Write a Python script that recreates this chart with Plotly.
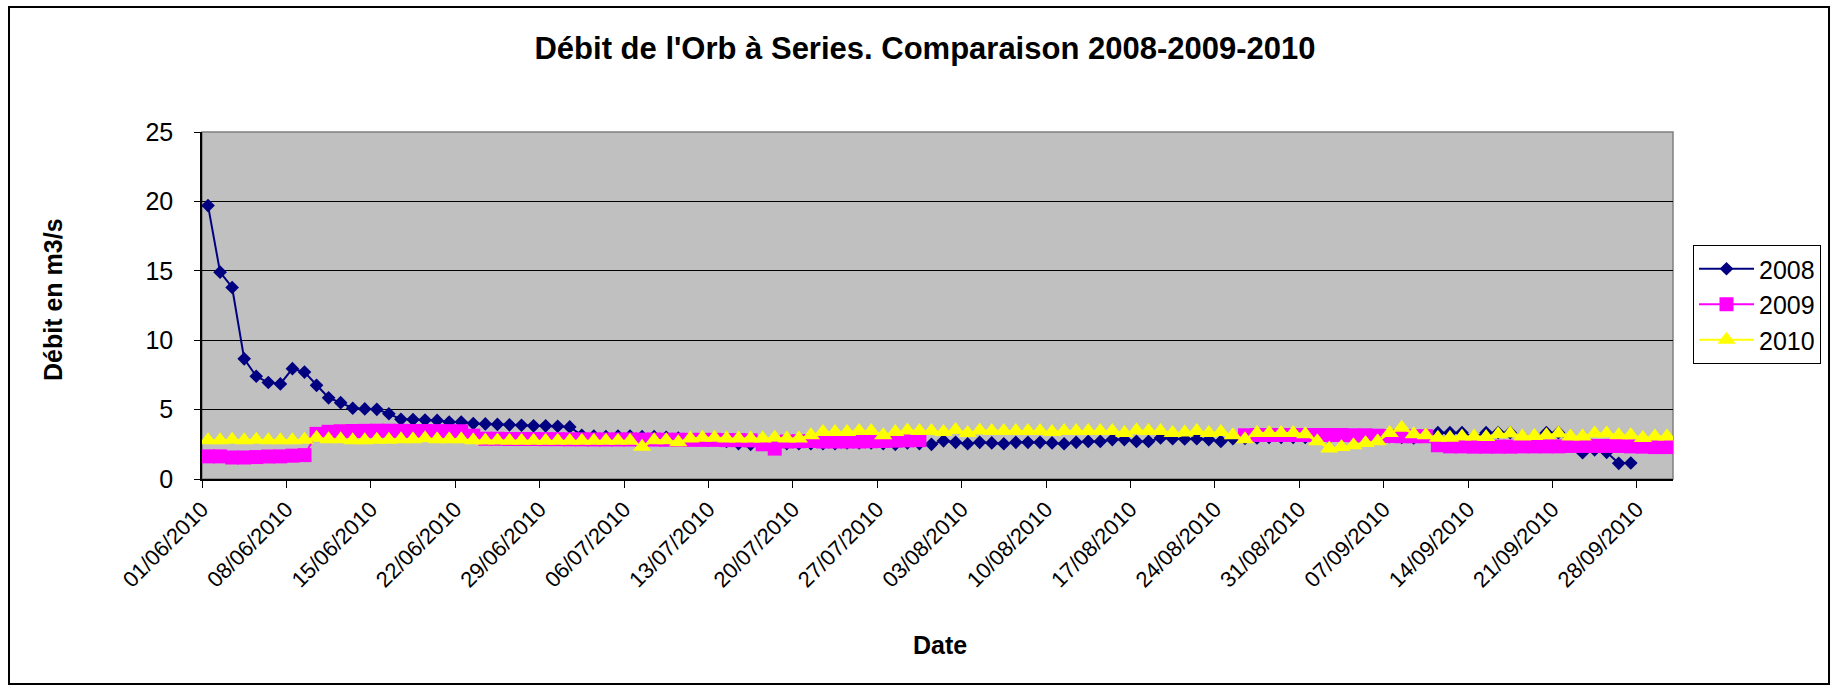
import pandas as pd
import plotly.graph_objects as go

# categories: one per day, 01/06/2010 -> 30/09/2010
dates = pd.date_range("2010-06-01", "2010-09-30", freq="D")

tick_labels = ["01/06/2010", "08/06/2010", "15/06/2010", "22/06/2010", "29/06/2010",
               "06/07/2010", "13/07/2010", "20/07/2010", "27/07/2010", "03/08/2010",
               "10/08/2010", "17/08/2010", "24/08/2010", "31/08/2010", "07/09/2010",
               "14/09/2010", "21/09/2010", "28/09/2010"]

# débit en m3/s
debit_2008 = [19.7, 14.9, 13.8, 8.66, 7.4, 6.95, 6.85, 7.95, 7.7, 6.75,
              5.85, 5.5, 5.1, 5.05, 5.02, 4.7, 4.3, 4.28, 4.25, 4.22,
              4.1, 4.1, 4.0, 3.97, 3.93, 3.9, 3.87, 3.83, 3.83, 3.8,
              3.75, 3.15, 3.1, 3.05, 3.1, 3.1, 3.05, 3.05, 3.0, 2.95,
              2.9, 2.95, 2.9, 2.7, 2.55, 2.5, 2.55, 2.55, 2.55, 2.55,
              2.55, 2.55, 2.55, 2.6, 2.6, 2.6, 2.55, 2.5, 2.6, 2.55,
              2.5, 2.75, 2.64, 2.54, 2.64, 2.6, 2.54, 2.64, 2.64, 2.64,
              2.6, 2.54, 2.64, 2.71, 2.71, 2.84, 2.84, 2.71, 2.71, 2.96,
              2.9, 2.88, 2.9, 2.84, 2.71, 2.9, 2.92, 2.96, 3.0, 3.0,
              3.0, 3.0, 2.96, 3.0, 3.0, 3.0, 3.0, 3.0, 3.05, 3.0,
              2.96, 3.2, 3.34, 3.34, 3.34, 3.05, 3.34, 3.34, 3.34, 3.05,
              3.05, 3.34, 3.34, 2.6, 1.9, 2.1, 1.92, 1.13, 1.15,
              None, None, None]

debit_2009 = [1.63, 1.63, 1.55, 1.55, 1.58, 1.62, 1.63, 1.68, 1.72, 3.25,
              3.4, 3.44, 3.46, 3.47, 3.48, 3.48, 3.47, 3.46, 3.46, 3.45,
              3.45, 3.44, 3.12, 2.9, 2.9, 2.88, 2.88, 2.88, 2.87, 2.87,
              2.86, 2.86, 2.85, 2.85, 2.85, 2.85, 2.84, 2.84, 2.83, 2.83,
              2.82, 2.82, 2.82, 2.8, 2.8, 2.78, 2.5, 2.19, 2.7, 2.72,
              2.74, 2.7, 2.7, 2.7, 2.7, 2.72, 2.74, 2.76, 2.78, 2.8,
              None, None, None, None, None, None, None, None, None, None,
              None, None, None, None, None, None, None, None, None, None,
              None, None, None, None, None, None, 3.15, 3.17, 3.17, 3.17,
              3.17, 3.17, 3.17, 3.17, 3.17, 3.15, 3.15, 3.12, 3.1, 3.08,
              3.08, 3.08, 2.43, 2.35, 2.35, 2.33, 2.33, 2.33, 2.33, 2.35,
              2.35, 2.35, 2.35, 2.38, 2.38, 2.38, 2.38, 2.38, 2.35, 2.33,
              2.3, 2.3]

debit_2010 = [2.79, 2.79, 2.83, 2.79, 2.83, 2.79, 2.79, 2.79, 2.83, 2.98,
              2.86, 2.86, 2.79, 2.79, 2.83, 2.83, 2.86, 2.86, 2.93, 2.86,
              2.86, 2.86, 2.8, 2.78, 2.78, 2.76, 2.76, 2.75, 2.75, 2.75,
              2.76, 2.76, 2.75, 2.75, 2.75, 2.75, 2.32, 2.79, 2.79, 2.65,
              2.91, 2.98, 2.98, 2.91, 2.91, 2.91, 2.91, 2.98, 2.91, 2.91,
              3.15, 3.39, 3.39, 3.39, 3.46, 3.46, 3.15, 3.39, 3.5, 3.46,
              3.46, 3.39, 3.53, 3.31, 3.5, 3.46, 3.46, 3.46, 3.46, 3.46,
              3.39, 3.46, 3.46, 3.46, 3.46, 3.46, 3.31, 3.5, 3.46, 3.46,
              3.31, 3.35, 3.46, 3.31, 3.39, 3.15, 2.86, 3.31, 3.31, 3.31,
              3.31, 3.22, 2.72, 2.19, 2.31, 2.43, 2.6, 2.72, 3.31, 3.7,
              3.22, 3.15, 2.98, 2.98, 3.07, 3.07, 3.03, 3.22, 3.27, 3.07,
              3.1, 3.15, 3.27, 3.07, 3.07, 3.27, 3.27, 3.15, 3.15, 2.96,
              3.07, 3.07]

FONT = "Liberation Sans, Arial, sans-serif"

# plot area in pixels
L, R, T, B = 202, 1673, 132, 479
W, H = 1836, 688

def px_x(x):
    return (x - L) / (R - L)

def px_y(y):
    return (B - y) / (B - T)

half_day = pd.Timedelta(hours=12)
tick_vals = [pd.to_datetime(t, dayfirst=True) - half_day for t in tick_labels]

fig = go.Figure()
fig.add_trace(go.Scatter(x=dates, y=debit_2008, name="2008", mode="lines+markers",
                         line=dict(color="#000080", width=2),
                         marker=dict(symbol="diamond", size=10.5, color="#000080")))
fig.add_trace(go.Scatter(x=dates, y=debit_2009, name="2009", mode="lines+markers",
                         line=dict(color="#FF00FF", width=2),
                         marker=dict(symbol="square", size=14, color="#FF00FF")))
fig.add_trace(go.Scatter(x=dates, y=debit_2010, name="2010", mode="lines+markers",
                         line=dict(color="#FFFF00", width=2),
                         marker=dict(symbol="triangle-up", size=16, color="#FFFF00")))

fig.update_layout(
    width=W, height=H,
    margin=dict(l=L, r=W - R, t=T, b=H - B, autoexpand=False),
    paper_bgcolor="white",
    plot_bgcolor="#C0C0C0",
    font=dict(family=FONT, color="black", size=22),
    title=dict(text="<b>Débit de l'Orb à Series. Comparaison 2008-2009-2010</b>",
               font=dict(size=31, family=FONT, color="black"),
               x=925 / W, xref="container", xanchor="center",
               y=1 - 48 / H, yref="container", yanchor="middle"),
    legend=dict(x=px_x(1693), y=px_y(245), xanchor="left", yanchor="top",
                bgcolor="white", bordercolor="black", borderwidth=1,
                font=dict(size=25, family=FONT, color="black"),
                tracegroupgap=8, itemwidth=55),
    showlegend=True,
)

fig.update_xaxes(
    range=[dates[0] - half_day, dates[-1] + half_day],
    tickmode="array", tickvals=tick_vals, ticktext=tick_labels,
    tickangle=-45, tickfont=dict(size=22),
    ticks="outside", ticklen=7, tickcolor="black",
    showgrid=False, showline=True, linecolor="black", linewidth=1.5,
    automargin=False,
)
fig.update_yaxes(
    range=[0, 25], tickvals=[0, 5, 10, 15, 20, 25], tickfont=dict(size=25),
    ticks="outside", ticklen=6, tickcolor="black", ticklabelstandoff=16,
    showgrid=True, gridcolor="black", gridwidth=1, zeroline=False,
    showline=True, linecolor="black", linewidth=1.5,
    automargin=False,
)

# plot area border (gray on top/right) and outer chart frame
fig.add_shape(type="rect", xref="paper", yref="paper", x0=0, x1=1, y0=0, y1=1,
              line=dict(color="#808080", width=1.5), layer="below")
fig.add_shape(type="rect", xref="paper", yref="paper",
              x0=px_x(9), x1=px_x(1829), y0=px_y(684), y1=px_y(7),
              line=dict(color="black", width=2))

# axis titles
fig.add_annotation(text="<b>Débit en m3/s</b>", xref="paper", yref="paper",
                   x=px_x(53), y=px_y(300), xanchor="center", yanchor="middle",
                   textangle=-90, showarrow=False,
                   font=dict(size=25, family=FONT, color="black"))
fig.add_annotation(text="<b>Date</b>", xref="paper", yref="paper",
                   x=px_x(940), y=px_y(645), xanchor="center", yanchor="middle",
                   showarrow=False,
                   font=dict(size=25, family=FONT, color="black"))

# drop the browser's default page margin so the figure sits at (0, 0)
fig.write_html("out.html", config={"displayModeBar": False},
               post_script="document.body.style.margin='0';")
